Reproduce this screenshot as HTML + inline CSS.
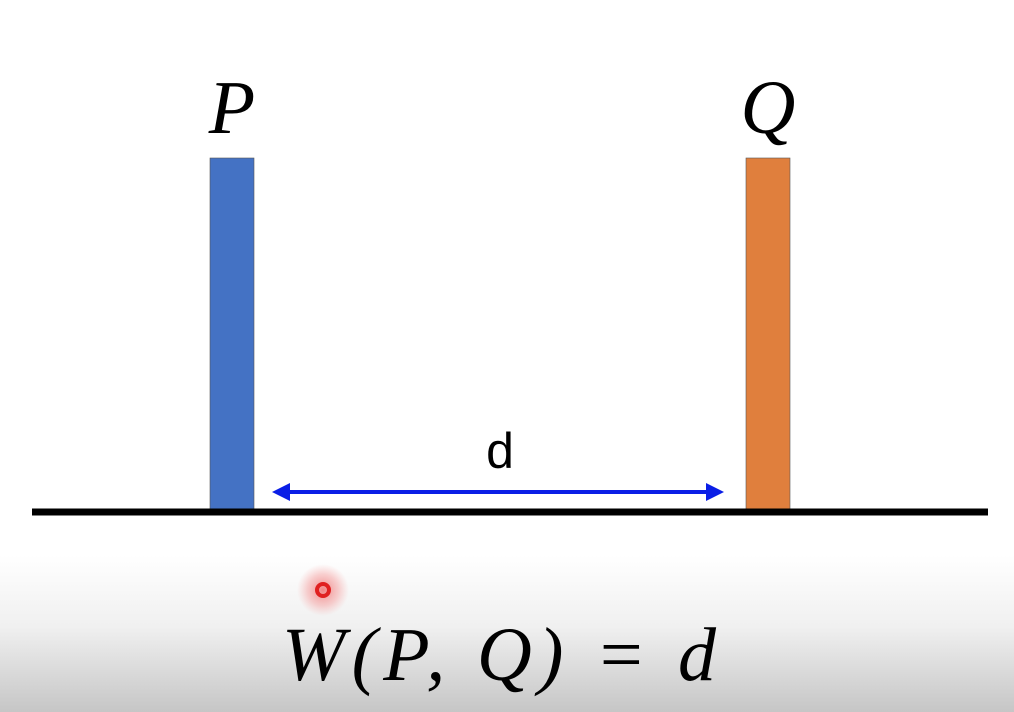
<!DOCTYPE html>
<html><head><meta charset="utf-8"><style>
html,body{margin:0;padding:0;width:1014px;height:712px;overflow:hidden;background:#fff}
svg{display:block}
text{font-family:"Liberation Serif",serif}
</style></head><body>
<svg width="1014" height="712" viewBox="0 0 1014 712">
<defs>
<linearGradient id="bg" x1="0" y1="0" x2="0" y2="1">
<stop offset="0" stop-color="#ffffff"/><stop offset="0.78" stop-color="#ffffff"/><stop offset="0.88" stop-color="#f0f0f0"/><stop offset="1" stop-color="#c6c6c6"/>
</linearGradient>
<radialGradient id="glow"><stop offset="0" stop-color="#f07070" stop-opacity="0.85"/><stop offset="0.6" stop-color="#f5a0a0" stop-opacity="0.5"/><stop offset="1" stop-color="#f8b0b0" stop-opacity="0"/></radialGradient>
</defs>
<rect width="1014" height="712" fill="url(#bg)"/>
<g id="marks"></g>
<line x1="32" y1="512" x2="988" y2="512" stroke="#000" stroke-width="7"/>
<g>
<line x1="285" y1="492" x2="712" y2="492" stroke="#0a1ee6" stroke-width="4"/>
<polygon points="272,492 290,483 290,501" fill="#0a1ee6"/>
<polygon points="724,492 706,483 706,501" fill="#0a1ee6"/>
</g>
<text x="500" y="468" font-size="50" text-anchor="middle" style="font-family:'Liberation Sans',sans-serif">d</text>
<text x="282" y="680" font-size="76" font-style="italic" textLength="434" lengthAdjust="spacing">W(P, Q) = d</text>
<circle cx="323" cy="590" r="26" fill="url(#glow)"/>
<circle cx="323" cy="590" r="6" fill="none" stroke="#e02020" stroke-width="4"/>
</svg>
<script>
const labels=["P","Q"];
const positions=[0,1];
const heights=[1,1];
const colors=["#4472c4","#e07f3d"];
const xs=v=>232+v*536, ys=v=>512-v*354;
const g=document.getElementById('marks');
const ns="http://www.w3.org/2000/svg";
labels.forEach((l,i)=>{
 const r=document.createElementNS(ns,'rect');
 r.setAttribute('x',xs(positions[i])-22);r.setAttribute('width',44);
 r.setAttribute('y',ys(heights[i]));r.setAttribute('height',512-ys(heights[i]));
 r.setAttribute('fill',colors[i]);r.setAttribute('stroke','#555');r.setAttribute('stroke-width','0.6');
 
 
 g.appendChild(r);
 const t=document.createElementNS(ns,'text');
 t.setAttribute('x',xs(positions[i]));t.setAttribute('y',ys(heights[i])-25);
 t.setAttribute('font-size','76');t.setAttribute('font-style','italic');t.setAttribute('text-anchor','middle');
 t.textContent=l;
 
 
 g.appendChild(t);
});
</script>
</body></html>
